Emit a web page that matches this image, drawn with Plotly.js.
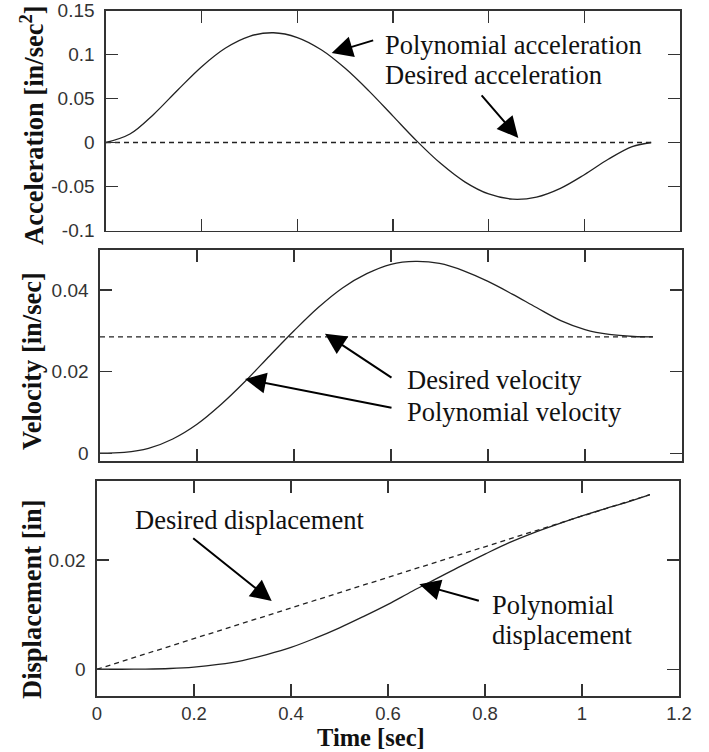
<!DOCTYPE html>
<html>
<head>
<meta charset="utf-8">
<script src="https://cdn.plot.ly/plotly-3.0.1.min.js"></script>
<style>html,body{margin:0;padding:0;background:#fff;}#chart{width:709px;height:752px;}</style>
</head>
<body>
<div id="chart"></div>
<script>
// ---- data ----
const time = [0, 0.05, 0.10, 0.15, 0.20, 0.25, 0.30, 0.35, 0.40, 0.45, 0.50, 0.55, 0.60, 0.65, 0.70, 0.75, 0.80, 0.85, 0.90, 0.95, 1.00, 1.05, 1.10, 1.14];
const polyAccel = [0, 0.0096, 0.0322, 0.0597, 0.0862, 0.1074, 0.1207, 0.1247, 0.1193, 0.1054, 0.0843, 0.0584, 0.0300, 0.0016, -0.0240, -0.0447, -0.0585, -0.0644, -0.0620, -0.0521, -0.0366, -0.0191, -0.0047, 0];
const polyVel = [0, 0.0002, 0.0012, 0.0035, 0.0071, 0.0120, 0.0177, 0.0239, 0.0300, 0.0357, 0.0405, 0.0440, 0.0463, 0.0470, 0.0465, 0.0447, 0.0421, 0.0390, 0.0357, 0.0325, 0.0303, 0.0291, 0.0286, 0.0285];
const polyDisp = [0, 0, 0.00003, 0.00014, 0.0004, 0.00088, 0.0016, 0.0027, 0.0040, 0.0057, 0.0076, 0.0097, 0.0119, 0.0143, 0.0166, 0.0189, 0.0211, 0.0232, 0.0250, 0.0266, 0.0281, 0.0295, 0.0308, 0.0320];
const desiredTime = [0, 1.14];
const desiredAccel = [0, 0];
const desiredVel = [0.0285, 0.0285];
const desiredDisp = [0, 0.0320];

const timeTicks = [0, 0.2, 0.4, 0.6, 0.8, 1, 1.2];
const timeTickText = ['0', '0.2', '0.4', '0.6', '0.8', '1', '1.2'];
const accelTicks = [-0.1, -0.05, 0, 0.05, 0.1, 0.15];
const accelTickText = ['-0.1', '-0.05', '0', '0.05', '0.1', '0.15'];
const velTicks = [0, 0.02, 0.04];
const velTickText = ['0', '0.02', '0.04'];
const dispTicks = [0, 0.02];
const dispTickText = ['0', '0.02'];

// ---- layout helpers ----
const W = 709, H = 752;
const px = v => v / W;
const py = v => 1 - v / H;
const ink = '#222';
const frame = '#333';
const serif = 'Liberation Serif, Times New Roman, serif';
const sans = 'Liberation Sans, Arial, sans-serif';

const solid = {color: ink, width: 1.3, shape: 'spline', smoothing: 1};
const dashed = {color: ink, width: 1.3, dash: '5px,4px'};

const traces = [
  {x: time, y: polyAccel, xaxis: 'x', yaxis: 'y', mode: 'lines', line: solid, name: 'Polynomial acceleration'},
  {x: desiredTime, y: desiredAccel, xaxis: 'x', yaxis: 'y', mode: 'lines', line: dashed, name: 'Desired acceleration'},
  {x: time, y: polyVel, xaxis: 'x2', yaxis: 'y2', mode: 'lines', line: solid, name: 'Polynomial velocity'},
  {x: desiredTime, y: desiredVel, xaxis: 'x2', yaxis: 'y2', mode: 'lines', line: dashed, name: 'Desired velocity'},
  {x: time, y: polyDisp, xaxis: 'x3', yaxis: 'y3', mode: 'lines', line: solid, name: 'Polynomial displacement'},
  {x: desiredTime, y: desiredDisp, xaxis: 'x3', yaxis: 'y3', mode: 'lines', line: dashed, name: 'Desired displacement'}
];

function axisBase(fontSize) {
  return {
    showline: true, linecolor: frame, linewidth: 1.6, mirror: 'ticks',
    ticks: 'inside', ticklen: 12, tickwidth: 1.5, tickcolor: frame,
    showgrid: false, zeroline: false, fixedrange: true,
    tickfont: {family: sans, size: fontSize, color: '#333'}
  };
}
function xAxis(domain, anchor, labels) {
  return Object.assign(axisBase(18.5), {
    domain: domain, anchor: anchor, range: [0, 1.2],
    tickmode: 'array', tickvals: timeTicks, ticktext: timeTickText,
    showticklabels: labels, ticklabelstandoff: 0
  });
}
function yAxis(domain, anchor, range, vals, text) {
  return Object.assign(axisBase(19), {
    domain: domain, anchor: anchor, range: range,
    tickmode: 'array', tickvals: vals, ticktext: text, ticklabelstandoff: 6
  });
}

function arrow(xref, yref, x, y, ax, ay) {
  return {xref: xref, yref: yref, x: x, y: y, ax: ax, ay: ay, text: '',
          showarrow: true, arrowhead: 2, arrowsize: 2.1, arrowwidth: 2, arrowcolor: '#000'};
}
function label(text, xp, yp) {
  return {xref: 'paper', yref: 'paper', x: px(xp), y: py(yp), text: text, showarrow: false,
          xanchor: 'left', yanchor: 'middle', borderpad: 0,
          font: {family: serif, size: 26.5, color: '#111'}};
}
function axisTitle(text, xp, yp, angle, size, yanchor) {
  return {xref: 'paper', yref: 'paper', x: px(xp), y: py(yp), text: '<b>' + text + '</b>', showarrow: false,
          xanchor: 'center', yanchor: yanchor || 'middle', textangle: angle, borderpad: 0,
          font: {family: serif, size: size, color: '#111'}};
}

const layout = {
  width: W, height: H,
  margin: {l: 0, r: 0, t: 0, b: 0},
  paper_bgcolor: '#fff', plot_bgcolor: '#fff',
  showlegend: false,
  xaxis: xAxis([px(106), px(680)], 'y', false),
  yaxis: yAxis([py(230.5), py(10.5)], 'x', [-0.1, 0.15], accelTicks, accelTickText),
  xaxis2: xAxis([px(100), px(682)], 'y2', false),
  yaxis2: yAxis([py(461), py(250)], 'x2', [-0.0019, 0.0498], velTicks, velTickText),
  xaxis3: xAxis([px(97), px(679)], 'y3', true),
  yaxis3: yAxis([py(696), py(481)], 'x3', [-0.0049, 0.0345], dispTicks, dispTickText),
  annotations: [
    arrow('x', 'y', 0.4718, 0.1018, 43, -13),
    arrow('x', 'y', 0.862, 0.0052, -38, -44),
    arrow('x2', 'y2', 0.4639, 0.0293, 68, 45),
    arrow('x2', 'y2', 0.299, 0.0182, 148, 29),
    arrow('x3', 'y3', 0.3602, 0.0125, -80, -64),
    arrow('x3', 'y3', 0.6646, 0.0156, 61, 17),
    label('Polynomial acceleration', 384, 44.7),
    label('Desired acceleration', 384, 74.7),
    label('Desired velocity', 406, 380.3),
    label('Polynomial velocity', 406, 412),
    label('Desired displacement', 134, 520.3),
    label('Polynomial', 491, 605.3),
    label('displacement', 491, 635.3),
    axisTitle('Acceleration [in/sec<sup>2</sup>]', 32, 125, -90, 26.5),
    axisTitle('Velocity [in/sec]', 32, 361, -90, 26.5),
    axisTitle('Displacement [in]', 32, 600, -90, 26.5),
    axisTitle('Time [sec]', 371, 751.5, 0, 24.5, 'bottom')
  ]
};

Plotly.newPlot('chart', traces, layout, {staticPlot: true, displayModeBar: false});
</script>
</body>
</html>
